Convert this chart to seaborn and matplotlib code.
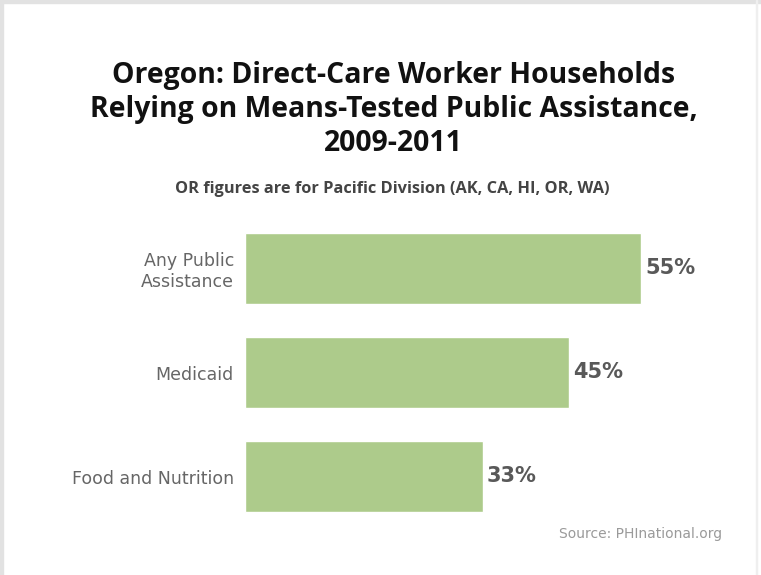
import matplotlib
matplotlib.use("Agg")
import matplotlib.pyplot as plt
import seaborn as sns
import pandas as pd
from matplotlib.patches import Rectangle

# Data
categories = ["Any Public\nAssistance", "Medicaid", "Food and Nutrition"]
shares = [55, 45, 33]
value_labels = ["55%", "45%", "33%"]

title_lines = ["Oregon: Direct-Care Worker Households",
               "Relying on Means-Tested Public Assistance,",
               "2009-2011"]
subtitle = "OR figures are for Pacific Division (AK, CA, HI, OR, WA)"
source = "Source: PHInational.org"

df = pd.DataFrame({"category": categories, "share": shares})

sns.set_theme(style="white")
plt.rcParams["font.family"] = ["DejaVu Sans"]

W, H = 761, 575
fig = plt.figure(figsize=(W / 100, H / 100), dpi=100)
fig.patch.set_facecolor("white")

# axes placement in pixels
ax_left, ax_right = 245, 720
ax_top, ax_bottom = 216.5, 528.5
ax = fig.add_axes([ax_left / W, 1 - ax_bottom / H,
                   (ax_right - ax_left) / W, (ax_bottom - ax_top) / H])

sns.barplot(data=df, y="category", x="share", orient="h", color="#adcb8b",
            saturation=1, width=0.683, ax=ax)
ax.set_xlim(0, (ax_right - ax_left) / 7.2)
ax.set_ylim(2.5, -0.5)
for s in ax.spines.values():
    s.set_visible(False)
ax.set_xticks([])
ax.set_xlabel("")
ax.set_ylabel("")
ax.tick_params(axis="y", length=0, pad=8, labelsize=12.5, labelcolor="#666666")
for lab in ax.get_yticklabels():
    lab.set_linespacing(1.2)

for i, (v, t) in enumerate(zip(shares, value_labels)):
    ax.annotate(t, xy=(v, i), xytext=(3, 0), textcoords="offset points",
                ha="left", va="center", fontsize=15, fontweight="bold",
                color="#595959")

title_font = ["Open Sans", "DejaVu Sans"]
for line, base in zip(title_lines, [83, 116.5, 151.5]):
    fig.text(393.5 / W, 1 - base / H, line, ha="center", va="baseline",
             fontsize=20.4, fontweight="bold", color="#111111",
             family=title_font)
fig.text(392 / W, 1 - 193 / H, subtitle, ha="center", va="baseline",
         fontsize=11.8, fontweight="bold", color="#444444", family=title_font)
fig.text(722 / W, 1 - 534 / H, source, ha="right", va="center",
         fontsize=10, color="#9a9a9a")

# light frame along top, left and right edges
fig.patches.append(Rectangle((0, 0), 2.5 / W, 1, transform=fig.transFigure,
                             color="#e2e2e2", zorder=0))
fig.patches.append(Rectangle((0, 1 - 3 / H), 1, 3 / H, transform=fig.transFigure,
                             color="#e2e2e2", zorder=0))
fig.patches.append(Rectangle((1 - 5 / W, 0), 1 / W, 1, transform=fig.transFigure,
                             color="#efefef", zorder=0))

fig.savefig("out.png", dpi=100, facecolor="white")
